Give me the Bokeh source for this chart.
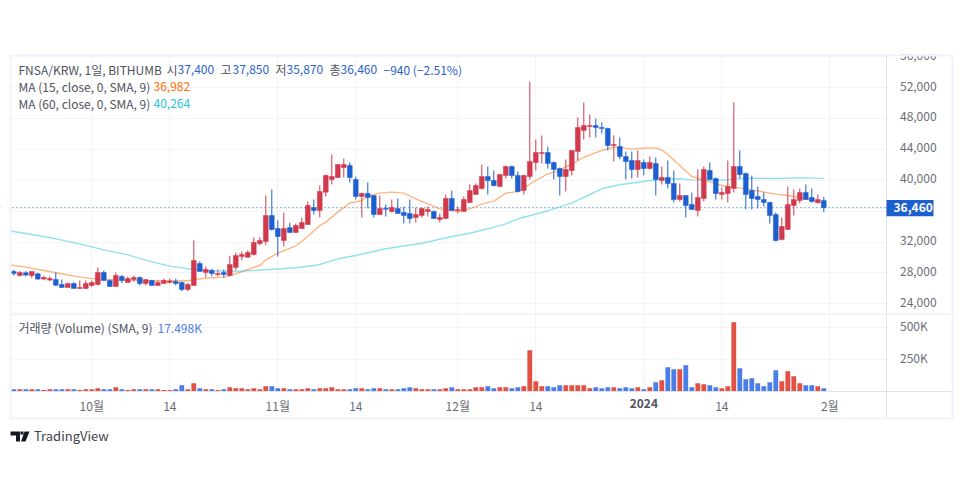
from bokeh.embed import file_html
from bokeh.resources import INLINE
from bokeh.plotting import figure
from bokeh.layouts import column
from bokeh.models import Range1d, FixedTicker, Label, BoxAnnotation, PolyAnnotation, Span, ColumnDataSource, LinearAxis

opens = [28190,27670,28020,27670,27890,27200,27070,27150,26510,26120,26640,25990,25990,26380,26510,28060,27020,26250,27540,26770,
 27150,27410,26640,27020,26380,26640,26770,26890,26770,25860,26380,29230,28060,28320,27800,28060,27670,28710,30130,30050,
 30390,31820,32080,35450,33760,32210,33890,33250,33760,34280,36490,36100,38470,40110,40370,41670,41930,40110,37910,38300,
 38040,35580,36400,35970,36360,35840,35710,35190,35450,35970,35970,34930,35060,37650,36100,35970,37130,38170,38950,40500,
 39980,39210,40630,41800,40630,38690,40500,42320,43480,43610,42320,41540,40500,41280,43740,46460,46980,47110,46850,46720,
 44520,44390,43090,42580,41410,42320,41540,42190,39980,40370,39600,37520,38040,36870,36100,37650,41280,40240,38170,38300,
 38950,41800,40890,38690,37910,37520,37130,35580,32340,33630,36740,37390,38430,37780,37130,37400]
highs = [28410,28230,28230,28190,28020,27630,27540,28060,27150,26720,26770,27020,27020,27020,28670,28320,27150,28060,27720,27540,
 27670,27540,27150,27110,27020,27240,27280,27240,26890,26680,32210,29490,28840,28540,28450,28450,30220,30650,30780,30910,
 32600,32640,38040,38820,34800,35790,34500,34410,35190,37260,37520,39340,40760,43350,42140,42840,42320,40500,38430,39730,
 38040,38040,36870,37520,37650,36610,37520,36490,36490,36610,36100,35710,38170,38690,36610,37910,39470,39600,42060,41800,
 41280,40760,41930,41930,41150,40760,52810,45300,45820,44390,42450,41670,42710,43870,48150,50090,48540,48020,47500,46850,
 45820,45560,43740,43740,43870,42710,43090,42970,41800,42580,41280,39600,38040,38430,41410,41800,42320,40370,39080,42580,
 50090,43870,41020,40630,39210,38430,37260,35840,35190,39210,38820,38950,39470,38950,38170,37850]
lows = [27670,27540,27540,27330,27110,27110,26940,26290,26120,26120,25990,25900,25900,26250,26380,27020,26250,26250,26680,26770,
 26890,26380,26380,26380,26380,26640,26640,26380,25640,25640,26380,28190,27410,27540,27540,27410,27540,28320,29620,29960,
 30260,31600,31600,33500,30130,31430,33160,33250,33760,34280,35580,35190,37910,39470,40330,40370,39730,37520,35190,36360,
 35190,35580,35320,35840,35710,34410,34410,34540,35190,35320,35060,34540,35060,36100,35710,35970,37130,38170,38820,38170,
 39210,39210,40240,40240,38430,38170,40110,41280,42190,41540,40110,38040,38560,40630,42580,45300,45560,45560,46080,43870,
 42450,42710,40110,40240,40370,40630,41410,38040,39470,38950,37130,37260,35190,36230,35320,37260,40110,37520,37520,37130,
 38430,40240,36230,36230,36360,36610,34410,32080,32210,33630,35450,37000,37520,37130,37000,35870]
closes = [27930,28060,27720,28190,27200,27410,27280,26420,26120,26640,25990,26120,26640,26770,28060,27020,26250,27670,27020,27280,
 27410,26640,27150,26380,26770,27020,26940,26640,25860,26510,29620,28190,28450,27930,27930,27800,29100,30260,30390,30650,
 31950,32210,35450,33630,32730,33760,33250,34150,34540,36740,36100,38560,40630,40500,42060,42060,40370,37910,38300,37780,
 35580,36360,36270,36490,35710,35450,35060,35580,36360,36230,35060,35190,37650,36100,36230,37520,38690,39340,40500,39980,
 39340,40760,41800,40630,38560,40630,42450,43610,43610,42190,41410,40500,41410,43870,46850,47110,47110,46850,46720,44520,
 44650,43090,42450,41410,42580,41540,42320,40110,40370,39600,37520,38040,36740,36230,37780,41410,40110,38300,38430,39210,
 41800,40760,38170,37650,37520,37130,35450,32210,34020,36870,37520,38430,37520,37260,37520,36460]
volumes = [15600,15600,15600,15600,15600,10400,15600,15600,15600,15600,15600,10400,15600,15600,23400,15600,15600,31200,15600,10400,
 15600,15600,15600,15600,15600,10400,10400,15600,46900,15600,62500,23400,15600,15600,10400,15600,31200,23400,23400,15600,
 23400,15600,39000,39000,23400,23400,15600,15600,15600,23400,15600,23400,23400,31200,15600,15600,15600,23400,23400,15600,
 23400,23400,15600,15600,15600,23400,31200,23400,15600,15600,15600,15600,23400,31200,15600,15600,15600,31200,31200,39000,
 23400,31200,31200,23400,31200,39000,320300,78100,39000,39000,31200,46900,46900,46900,46900,46900,23400,31200,23400,31200,
 31200,23400,31200,23400,31200,15600,31200,70300,85900,187500,171900,171900,203100,31200,62500,54700,46900,31200,23400,39000,
 539000,179700,93700,101600,62500,39000,70300,164100,78100,156200,117200,62500,46900,46900,39000,23400]

ma15_x = [-1,2,5,8,11,14,18,22,26,29,31,35,37,39,41,42,44,47,49,51,52,54,56,58,59,61,63,65,67,69,71,72,74,76,78,80,82,84,87,89,90,91,92,93,95,97,98,100,103,105,107,108,109,111,113,116,118,120,123,127,129,132,135]
ma15_y = [29098,28752,28320,27888,27456,27197,27067,26981,26981,26981,27240,27456,27888,28450,28968,29702,30566,31517,32726,34152,34584,35880,37046,37392,37954,38342,38472,38342,37608,36960,36312,36182,35966,36312,36917,37306,38342,38558,39984,40848,41059,41300,41750,42100,43000,43600,43870,44304,44088,44174,44218,43958,43354,41928,40502,39811,39336,39120,38774,38213,38040,37608,36982]
ma60_x = [-1,3,7,11,15,19,23,26,30,33,37,42,47,50,51,54,57,62,68,73,76,79,82,84,88,90,93,96,98,101,104,107,111,113,117,120,123,127,131,135]
ma60_y = [33504,32986,32424,31776,30998,30350,29443,28882,28450,28277,28190,28406,28666,28968,29095,29833,30261,31130,31856,32724,33152,33722,34370,35019,35835,36315,37093,38169,38907,39426,39763,40074,40204,40070,39984,40157,40286,40243,40330,40264]

price_ticks = [24000,28000,32000,36000,40000,44000,48000,52000,56000]
price_tick_labels = ["24,000","28,000","32,000","","40,000","44,000","48,000","52,000","56,000"]
volume_ticks = [250000,500000]
volume_tick_labels = ["250K","500K"]
time_ticks = [13,26,44,57,74,87,105,118,136]
time_labels = ["10월","14","11월","14","12월","14","","14","2월"]
last_price = 36460

FONT = "Noto Sans CJK KR"
GRAY = "#50535e"
AXIS_TXT = "#6a6d78"
LINE = "#e0e3eb"
STRIP = "#f0f3fa"
GRID = "#f3f4f8"
UP = "#d1394d"
DOWN = "#1c5fd0"
VUP = "#e25141"
VDOWN = "#4a7de8"
BLUE_TXT = "#2962c8"

AXIS_I = 145.53  # bar-index position of the price axis
xr = Range1d(-2.217, 157.783)
idx = list(range(len(closes)))
cand_col = [UP if c >= o else DOWN for o, c in zip(opens, closes)]
vol_col = [VUP if c >= o else VDOWN for o, c in zip(opens, closes)]
src = ColumnDataSource(dict(i=idx, o=opens, h=highs, l=lows, c=closes, v=volumes, cc=cand_col, vc=vol_col))


def make_fig(height, yr):
    p = figure(width=960, height=height, x_range=xr, y_range=yr, output_backend="svg", toolbar_location=None,
               x_axis_location=None, y_axis_location=None)
    p.outline_line_color = None
    p.background_fill_color = "white"
    p.border_fill_color = "white"
    p.min_border = 0
    p.min_border_left = p.min_border_right = p.min_border_top = p.min_border_bottom = 0
    p.xgrid.ticker = FixedTicker(ticks=time_ticks)
    p.xgrid.grid_line_color = GRID
    p.ygrid.grid_line_color = GRID
    return p


def y_axis(ticks, labels):
    # the labels' range sits 1.7px above the grid's so the text rides just over each gridline
    return LinearAxis(fixed_location=AXIS_I, y_range_name="labels", ticker=FixedTicker(ticks=ticks),
                      major_label_overrides={t: s for t, s in zip(ticks, labels)},
                      major_tick_line_color=None, minor_tick_line_color=None, axis_line_color=LINE,
                      major_label_text_font=FONT, major_label_text_font_size="12px",
                      major_label_text_color=AXIS_TXT, major_label_standoff=7)


def txt(p, x, y, s, color=GRAY, size="12px", style="normal", x_units="canvas"):
    p.add_layout(Label(x=x, y=y, x_units=x_units, y_units="canvas", text=s, text_color=color,
                       text_font=FONT, text_font_size=size, text_font_style=style,
                       text_align="center" if x_units == "data" else "left", text_baseline="middle"))


def box(p, l, r, t, b, color, level="annotation"):
    p.add_layout(BoxAnnotation(left=l, right=r, top=t, bottom=b, left_units="canvas", right_units="canvas",
                               top_units="canvas", bottom_units="canvas", fill_color=color, fill_alpha=1,
                               line_color=None, level=level))


# ---- price pane: canvas = page y 0..313
p1 = make_fig(313, Range1d(22742, 63318))
p1.extra_y_ranges = {"labels": Range1d(22742 - 230, 63318 - 230)}
p1.ygrid.ticker = FixedTicker(ticks=price_ticks)
p1.add_layout(y_axis(price_ticks, price_tick_labels), "right")
p1.add_layout(Span(location=last_price, dimension="width", line_color=DOWN, line_width=1, line_dash=[1, 3], level="underlay"))
box(p1, 887, 960, 0, 313, "white", level="underlay")

p1.line(ma15_x, ma15_y, line_color="#ff6d00", line_alpha=0.5, line_width=1.4)
p1.line(ma60_x, ma60_y, line_color="#26c6da", line_alpha=0.5, line_width=1.4)
p1.segment(x0="i", x1="i", y0="l", y1="h", line_color="cc", line_width=1, source=src)
p1.vbar(x="i", width=0.8, top="o", bottom="c", fill_color="cc", line_color="cc", line_width=0.5, source=src)

# surrounds
box(p1, 0, 960, 0, 54, "white")
box(p1, 0, 9, 54, 313, "white")
box(p1, 953, 960, 54, 313, "white")
box(p1, 9, 953, 54, 56, STRIP)
box(p1, 9, 11, 54, 313, STRIP)
box(p1, 951, 953, 54, 313, STRIP)

# price tag
box(p1, 886, 933, 199.5, 215.7, DOWN)
txt(p1, 893, 206.6, "36,460", color="white", style="bold")

# legend
ROW1, ROW2, ROW3 = 68.8, 85.8, 102.8
txt(p1, 18, ROW1, "FNSA/KRW, 1일, BITHUMB")
txt(p1, 166, ROW1, "시")
txt(p1, 177, ROW1, "37,400", color=BLUE_TXT)
txt(p1, 220, ROW1, "고")
txt(p1, 232, ROW1, "37,850", color=BLUE_TXT)
txt(p1, 275, ROW1, "저")
txt(p1, 286, ROW1, "35,870", color=BLUE_TXT)
txt(p1, 329, ROW1, "총")
txt(p1, 340, ROW1, "36,460", color=BLUE_TXT)
txt(p1, 383, ROW1, "−940 (−2.51%)", color=BLUE_TXT)
txt(p1, 18, ROW2, "MA (15, close, 0, SMA, 9)")
txt(p1, 153, ROW2, "36,982", color="#ff6d00")
txt(p1, 18, ROW3, "MA (60, close, 0, SMA, 9)")
txt(p1, 153, ROW3, "40,264", color="#26c6da")

# ---- volume pane: canvas = page y 313..450
Y0 = 313
p2 = make_fig(137, Range1d(-462500, 607800))
p2.extra_y_ranges = {"labels": Range1d(-462500 - 15000, 607800 - 15000)}
p2.ygrid.ticker = FixedTicker(ticks=volume_ticks)
box(p2, 887, 960, 0, 137, "white", level="underlay")
box(p2, 0, 960, 391 - Y0, 137, "white", level="underlay")
p2.add_layout(y_axis(volume_ticks, volume_tick_labels), "right")
p2.add_layout(LinearAxis(fixed_location=-3900, ticker=FixedTicker(ticks=time_ticks),
                         major_label_overrides={t: s for t, s in zip(time_ticks, time_labels)},
                         major_tick_line_color=None, minor_tick_line_color=None, axis_line_color=LINE,
                         major_label_text_font=FONT, major_label_text_font_size="12px",
                         major_label_text_color=AXIS_TXT, major_label_standoff=-1), "below")

p2.vbar(x="i", width=0.8, top="v", bottom=0, fill_color="vc", line_color=None, source=src)

box(p2, 0, 960, 419 - Y0, 137, "white")
box(p2, 0, 9, 0, 137, "white")
box(p2, 953, 960, 0, 137, "white")
box(p2, 11, 951, 0, 1, LINE)
box(p2, 9, 11, 0, 419 - Y0, STRIP)
box(p2, 951, 953, 0, 419 - Y0, STRIP)
box(p2, 9, 953, 417 - Y0, 419 - Y0, STRIP)

txt(p2, 105, 402.5 - Y0, "2024", color="#50535e", style="bold", x_units="data")
txt(p2, 18, 327.4 - Y0, "거래량 (Volume) (SMA, 9)")
txt(p2, 157, 327.4 - Y0, "17.498K", color=VDOWN)

# TradingView mark
LY = 431 - Y0
mark = dict(xs_units="canvas", ys_units="canvas", fill_color="#131722", fill_alpha=1, line_color=None)
p2.add_layout(PolyAnnotation(xs=[10, 19.5, 19.5, 15.5, 15.5, 10], ys=[LY, LY, LY + 10, LY + 10, LY + 4, LY + 4], **mark))
p2.add_layout(PolyAnnotation(xs=[24, 29, 25, 20.5], ys=[LY, LY, LY + 10, LY + 10], **mark))
p2.add_layout(PolyAnnotation(xs=[20, 23, 23, 20], ys=[LY, LY, LY + 3, LY + 3], **mark))
txt(p2, 33.5, 435 - Y0, "TradingView", color="#3f434e", size="13px")

open("out.html", "w").write(file_html(column(p1, p2, spacing=0), INLINE))
